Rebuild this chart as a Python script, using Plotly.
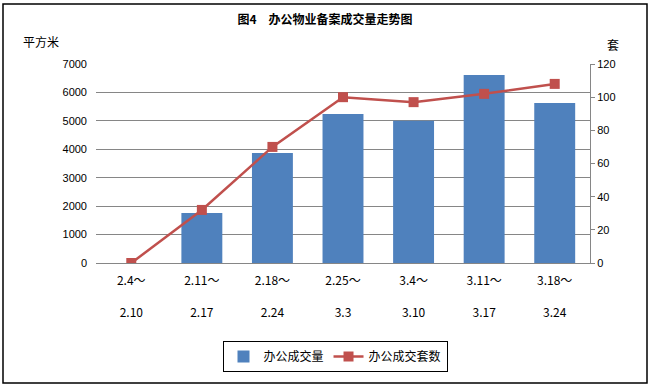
import plotly.graph_objects as go

categories = ["2.4～<br><br>2.10", "2.11～<br><br>2.17", "2.18～<br><br>2.24", "2.25～<br><br>3.3",
              "3.4～<br><br>3.10", "3.11～<br><br>3.17", "3.18～<br><br>3.24"]
area = [0, 1760, 3870, 5240, 5000, 6610, 5630]
units = [0, 32, 70, 100, 97, 102, 108]

W, H = 650, 387
L, R, T, B = 96, 590, 64, 263

fig = go.Figure()
fig.add_trace(go.Bar(x=categories, y=area, name="办公成交量", marker_color="#4F81BD",
                     marker_line_width=0, yaxis="y"))
fig.add_trace(go.Scatter(x=categories, y=units, name="办公成交套数", yaxis="y2", mode="lines+markers",
                         line=dict(color="#C0504D", width=2.5),
                         marker=dict(symbol="square", size=10, color="#C0504D")))

def px_x(x):
    return (x - L) / (R - L)

def px_y(y):
    return (B - y) / (B - T)

font = "Liberation Sans, Noto Sans CJK SC, sans-serif"
fig.update_layout(
    width=W, height=H,
    margin=dict(l=L, r=W - R, t=T, b=H - B, autoexpand=False),
    paper_bgcolor="white", plot_bgcolor="white",
    font=dict(family=font, size=11, color="black"),
    bargap=0.42,
    showlegend=True,
    legend=dict(orientation="h", x=px_x(335), xanchor="center", y=px_y(341), yanchor="top",
                bordercolor="black", borderwidth=1, bgcolor="white",
                font=dict(family="Noto Sans CJK SC", size=12), itemwidth=30,
                tracegroupgap=0),
    xaxis=dict(showgrid=False, showline=True, linecolor="#868686", linewidth=1,
               ticks="", automargin=False, ticklabelstandoff=7,
               tickfont=dict(family="Noto Sans CJK SC, serif", size=12)),
    yaxis=dict(range=[0, 7000], dtick=1000, showgrid=True, gridcolor="#868686", gridwidth=1,
               showline=False, zeroline=False, ticks="", ticklabelstandoff=8, automargin=False,
               tickfont=dict(size=11)),
    yaxis2=dict(range=[0, 120], dtick=20, overlaying="y", side="right", showgrid=False,
                showline=True, linecolor="#868686", linewidth=1, zeroline=False, automargin=False,
                ticks="outside", ticklen=4, tickcolor="#868686", tickfont=dict(size=11)),
    title=dict(text="<b>图4　办公物业备案成交量走势图</b>", x=325 / W, xanchor="center",
               y=1 - 20 / H, yanchor="middle", yref="container",
               font=dict(family="Noto Sans CJK SC", size=12)),
)

fig.add_annotation(text="平方米", x=px_x(41), y=px_y(42), xref="paper", yref="paper",
                   xanchor="center", yanchor="middle",
                   showarrow=False, font=dict(family="Noto Sans CJK SC", size=12))
fig.add_annotation(text="套", x=px_x(613), y=px_y(45), xref="paper", yref="paper",
                   xanchor="center", yanchor="middle",
                   showarrow=False, font=dict(family="Noto Sans CJK SC", size=12))

fig.add_shape(type="rect", xref="paper", yref="paper",
              x0=px_x(3), x1=px_x(647), y0=px_y(383), y1=px_y(4),
              line=dict(color="black", width=1.5), layer="below")

fig.write_html("out.html", config={"displayModeBar": False},
               post_script="document.body.style.margin='0';document.body.style.padding='0';")
